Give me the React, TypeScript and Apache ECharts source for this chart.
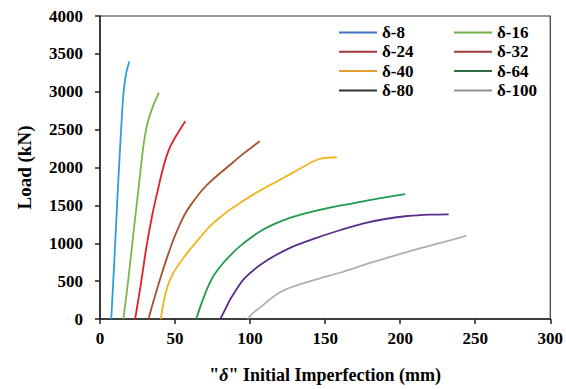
import React, { useEffect, useRef } from "react";
import * as echarts from "echarts";

const seriesNames = ["δ-8", "δ-16", "δ-24", "δ-32", "δ-40", "δ-64", "δ-80", "δ-100"];

const d8 = [[7.5, 0], [9, 560], [10.5, 1150], [12, 1750], [13.5, 2300], [14.8, 2750], [16, 3050], [17.5, 3250], [19.5, 3400]];
const d16 = [[15.6, 0], [18.9, 526], [22.7, 1206], [25.6, 1711], [27.5, 2050], [28.9, 2280], [30.5, 2480], [32.3, 2632], [35.5, 2820], [39.2, 2990]];
const d24 = [[23.4, 0], [27, 430], [31, 960], [35, 1390], [38.5, 1700], [42, 1990], [45.6, 2220], [49, 2360], [56.8, 2610]];
const d32 = [[32.3, 0], [36, 260], [40, 526], [44.5, 800], [49, 1053], [53, 1240], [57, 1400], [61, 1520], [68, 1700], [75, 1840], [86.9, 2040], [96, 2190], [106.4, 2346]];
const d40 = [[40.5, 0], [42.5, 230], [45, 430], [49, 614], [55, 790], [62, 965], [73.5, 1228], [83, 1390], [93.5, 1535], [107, 1700], [120.3, 1842], [132, 1970], [142, 2080], [148, 2120], [157.7, 2135]];
const d64 = [[64.1, 0], [67.5, 200], [71.3, 395], [76, 580], [82.4, 746], [93.5, 965], [109.1, 1184], [127, 1338], [144.8, 1434], [160.4, 1500], [167, 1520], [185, 1590], [203.3, 1649]];
const d80 = [[80.2, 0], [83.5, 130], [86.9, 263], [95.8, 526], [109.1, 746], [127, 943], [144.8, 1075], [160.4, 1175], [175, 1260], [190, 1320], [205, 1360], [220, 1378], [232.3, 1382]];
const d100 = [[98.4, 0], [102, 80], [106.9, 154], [112, 240], [118, 329], [125, 400], [133.6, 461], [147, 540], [160.4, 614], [180, 740], [207, 899], [225, 995], [244, 1096]];

const seriesData = [d8, d16, d24, d32, d40, d64, d80, d100];

const lineColors = ["#2b9fd9", "#7ab648", "#e0202a", "#a0522d", "#f0b41e", "#1f9a4e", "#5a2d8a", "#b0b0b0"];
const legendColors = ["#4472c4", "#70ad47", "#a5373a", "#9e3b3b", "#e0a030", "#2e6b3e", "#333333", "#909090"];

const FONT = "Liberation Serif";

export default function App() {
  const ref = useRef<HTMLDivElement>(null);
  useEffect(() => {
    if (!ref.current) return;
    document.body.style.margin = "0";
    const chart = echarts.init(ref.current, undefined, { renderer: "svg" });
    const legendItem = (i: number) => ({
      name: seriesNames[i],
      icon: "rect",
      itemStyle: { color: legendColors[i] },
    });
    const legendBase = {
      orient: "vertical",
      top: 19,
      itemGap: 2.3,
      itemWidth: 38,
      itemHeight: 2,
      textStyle: { fontFamily: FONT, fontWeight: "bold", fontSize: 17, color: "#000", lineHeight: 16 },
    };
    chart.setOption({
      animation: false,
      backgroundColor: "#fff",
      grid: {
        left: 100,
        top: 16,
        right: 14,
        bottom: 69,
        show: true,
        borderColor: "#333",
        borderWidth: 1.2,
      },
      legend: [
        { ...legendBase, left: 334, data: [0, 2, 4, 6].map(legendItem) },
        { ...legendBase, left: 449, data: [1, 3, 5, 7].map(legendItem) },
      ],
      xAxis: {
        type: "value",
        min: 0,
        max: 300,
        interval: 50,
        name: '"{i|δ}" Initial Imperfection (mm)',
        nameLocation: "middle",
        nameGap: 47,
        nameTextStyle: {
          fontFamily: FONT,
          fontWeight: "bold",
          fontSize: 18,
          color: "#000",
          rich: { i: { fontFamily: FONT, fontStyle: "italic", fontWeight: "bold", fontSize: 18, color: "#000" } },
        },
        axisLine: { lineStyle: { color: "#222", width: 1.5 } },
        axisTick: { show: true, length: 5, lineStyle: { color: "#222", width: 1.5 } },
        axisLabel: { fontFamily: FONT, fontWeight: "bold", fontSize: 17, color: "#000", margin: 11, formatter: (v: number) => String(v) },
        splitLine: { show: false },
      },
      yAxis: {
        type: "value",
        min: 0,
        max: 4000,
        interval: 500,
        name: "Load (kN)",
        nameLocation: "middle",
        nameGap: 66,
        nameTextStyle: { fontFamily: FONT, fontWeight: "bold", fontSize: 19, color: "#000" },
        axisLine: { show: true, lineStyle: { color: "#222", width: 1.5 } },
        axisTick: { show: true, length: 5, lineStyle: { color: "#222", width: 1.5 } },
        axisLabel: { fontFamily: FONT, fontWeight: "bold", fontSize: 17, color: "#000", margin: 17, formatter: (v: number) => String(v) },
        splitLine: { show: false },
      },
      series: seriesData.map((d, i) => ({
        name: seriesNames[i],
        type: "line",
        data: d,
        symbol: "none",
        smooth: 0.25,
        lineStyle: { color: lineColors[i], width: 1.8 },
        itemStyle: { color: lineColors[i] },
      })),
    });
    return () => chart.dispose();
  }, []);
  return <div ref={ref} style={{ width: 566, height: 389 }} />;
}
